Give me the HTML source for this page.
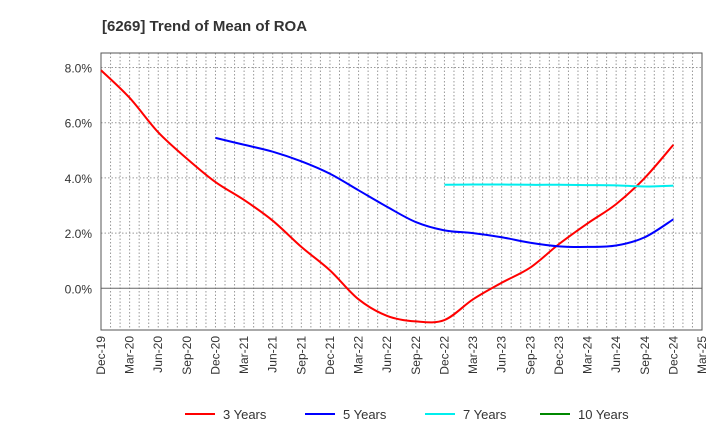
<!DOCTYPE html>
<html><head><meta charset="utf-8"><style>
body{margin:0;background:#fff;font-family:"Liberation Sans",sans-serif}
</style></head><body>
<svg id="chart" width="720" height="440" xmlns="http://www.w3.org/2000/svg" font-family="Liberation Sans, sans-serif">
<text x="102" y="31" font-size="15" font-weight="bold" fill="#333">[6269]  Trend of Mean of ROA</text>
<g id="grid"></g><g id="axes"></g><g id="series"></g><g id="legend"></g>
</svg>
<script>
const xLabels=["Dec-19","Mar-20","Jun-20","Sep-20","Dec-20","Mar-21","Jun-21","Sep-21","Dec-21","Mar-22","Jun-22","Sep-22","Dec-22","Mar-23","Jun-23","Sep-23","Dec-23","Mar-24","Jun-24","Sep-24","Dec-24","Mar-25"];
const yTicks=[0,2,4,6,8];
const roa3=[7.9,6.9,5.65,4.7,3.85,3.2,2.45,1.5,0.65,-0.4,-1.0,-1.2,-1.15,-0.4,0.2,0.75,1.6,2.35,3.05,4.0,5.2];
const roa5=[5.45,5.2,4.95,4.6,4.15,3.55,2.95,2.4,2.1,2.0,1.85,1.65,1.52,1.5,1.55,1.85,2.5];
const roa7=[3.75,3.76,3.76,3.75,3.75,3.74,3.73,3.69,3.72];
const roa10=[];
const L=101,R=702,T=53,B=330;
const x=i=>L+i*(R-L)/21;
const y=v=>288.3-v*27.6;
const ns="http://www.w3.org/2000/svg";
function mk(p,t,a){const e=document.createElementNS(ns,t);for(const k in a)e.setAttribute(k,a[k]);p.appendChild(e);return e;}
const grid=document.getElementById('grid'),axes=document.getElementById('axes'),ser=document.getElementById('series'),leg=document.getElementById('legend');
for(let m=1;m<63;m++){const xx=L+m*(R-L)/63;const g=mk(grid,'line',{x1:xx,x2:xx,y1:T,y2:B,stroke:'#999','stroke-dasharray':'1.5,2','stroke-width':1});

}
yTicks.forEach(v=>{const g=mk(grid,'line',{x1:L,x2:R,y1:y(v),y2:y(v),stroke:v===0?'#666':'#999','stroke-dasharray':v===0?'':'1.5,2','stroke-width':1});


const t=mk(axes,'text',{x:L-9,y:y(v)+5,'text-anchor':'end','font-size':12,fill:'#333'});t.textContent=v.toFixed(1)+'%';

});
const fr=mk(axes,'rect',{x:L,y:T,width:R-L,height:B-T,fill:'none',stroke:'#555','stroke-width':1});


xLabels.forEach((s,i)=>{const t=mk(axes,'text',{transform:`translate(${x(i)+4},${B+6}) rotate(-90)`,'text-anchor':'end','font-size':12,fill:'#333'});t.textContent=s;

});
function line(arr,start,color,name){if(!arr.length)return;const pts=arr.map((v,i)=>[x(start+i),y(v)]);
let d='M'+pts[0][0]+','+pts[0][1];
for(let i=0;i<pts.length-1;i++){const p0=pts[i-1]||pts[i],p1=pts[i],p2=pts[i+1],p3=pts[i+2]||p2;
d+=` C${p1[0]+(p2[0]-p0[0])/6},${p1[1]+(p2[1]-p0[1])/6} ${p2[0]-(p3[0]-p1[0])/6},${p2[1]-(p3[1]-p1[1])/6} ${p2[0]},${p2[1]}`;}
const e=mk(ser,'path',{d:d,fill:'none',stroke:color,'stroke-width':2});

}
line(roa3,0,'#f00','line-3-years');line(roa5,4,'#00f','line-5-years');line(roa7,12,'#0ee','line-7-years');line(roa10,20,'#080','line-10-years');
[["3 Years","#f00",185],["5 Years","#00f",305],["7 Years","#0ee",425],["10 Years","#080",540]].forEach(([n,c,lx])=>{
const g=mk(leg,'g',{});


mk(g,'line',{x1:lx,x2:lx+30,y1:414,y2:414,stroke:c,'stroke-width':2});
const t=mk(g,'text',{x:lx+38,y:419,'font-size':13,fill:'#333'});t.textContent=n;});
</script>
</body></html>
